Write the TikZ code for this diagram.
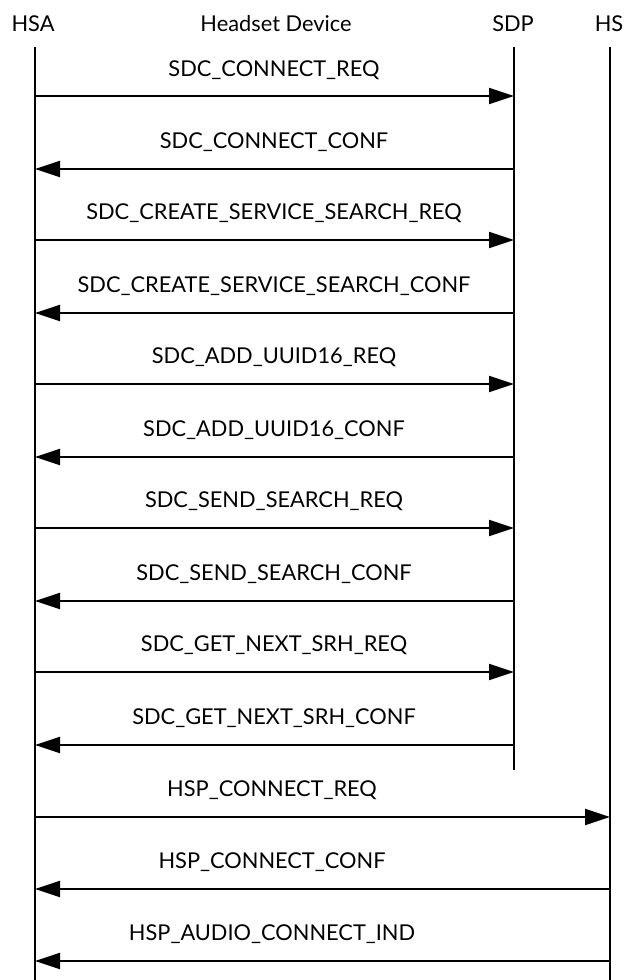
\documentclass[tikz,border=0pt]{standalone}
\usepackage{fontspec}
\setmainfont{Lato}
\usetikzlibrary{arrows.meta}
\tikzstyle{actor} = [font = \fontsize{21.8}{25}\selectfont, inner sep = 0pt]
\tikzstyle{msg} = [font = \fontsize{21.8}{25}\selectfont, inner sep = 0pt]
\tikzstyle{life} = [line width = 2pt]
\tikzstyle{call} = [-{Triangle[length = 25pt, width = 16pt]}, line width = 2pt]

\begin{document}
\begin{tikzpicture}[x = 1pt, y = -1pt]
        \useasboundingbox (0, 0) rectangle (624, 980);
        \node (HSA) at (33, 24) [actor] {HSA};
        \node (Device) at (276, 24) [actor] {Headset Device};
        \node (SDP) at (513, 24) [actor] {SDP};
        \node (HS) at (609, 24) [actor] {HS};

        \coordinate (hsaTop) at (35, 47);
        \coordinate (hsaEnd) at (35, 980);
        \coordinate (sdpTop) at (514, 47);
        \coordinate (sdpEnd) at (514, 770);
        \coordinate (hsTop) at (610, 47);
        \coordinate (hsEnd) at (610, 980);
        \draw [life] (hsaTop) -- (hsaEnd);
        \draw [life] (sdpTop) -- (sdpEnd);
        \draw [life] (hsTop) -- (hsEnd);

        % service discovery
        \node (m1) at (274, 70) [msg] {SDC\_CONNECT\_REQ};
        \draw [call] (hsaTop |- 0, 96) -- (sdpTop |- 0, 96);
        \node (m2) at (274, 142) [msg] {SDC\_CONNECT\_CONF};
        \draw [call] (sdpTop |- 0, 169) -- (hsaTop |- 0, 169);
        \node (m3) at (274, 213) [msg] {SDC\_CREATE\_SERVICE\_SEARCH\_REQ};
        \draw [call] (hsaTop |- 0, 240) -- (sdpTop |- 0, 240);
        \node (m4) at (274, 286) [msg] {SDC\_CREATE\_SERVICE\_SEARCH\_CONF};
        \draw [call] (sdpTop |- 0, 313) -- (hsaTop |- 0, 313);
        \node (m5) at (274, 357) [msg] {SDC\_ADD\_UUID16\_REQ};
        \draw [call] (hsaTop |- 0, 384) -- (sdpTop |- 0, 384);
        \node (m6) at (274, 430) [msg] {SDC\_ADD\_UUID16\_CONF};
        \draw [call] (sdpTop |- 0, 457) -- (hsaTop |- 0, 457);
        \node (m7) at (274, 501) [msg] {SDC\_SEND\_SEARCH\_REQ};
        \draw [call] (hsaTop |- 0, 528) -- (sdpTop |- 0, 528);
        \node (m8) at (274, 574) [msg] {SDC\_SEND\_SEARCH\_CONF};
        \draw [call] (sdpTop |- 0, 601) -- (hsaTop |- 0, 601);
        \node (m9) at (274, 645) [msg] {SDC\_GET\_NEXT\_SRH\_REQ};
        \draw [call] (hsaTop |- 0, 672) -- (sdpTop |- 0, 672);
        \node (m10) at (274, 718) [msg] {SDC\_GET\_NEXT\_SRH\_CONF};
        \draw [call] (sdpTop |- 0, 745) -- (hsaTop |- 0, 745);

        % headset profile
        \node (m11) at (272, 790) [msg] {HSP\_CONNECT\_REQ};
        \draw [call] (hsaTop |- 0, 817) -- (hsTop |- 0, 817);
        \node (m12) at (272, 862) [msg] {HSP\_CONNECT\_CONF};
        \draw [call] (hsTop |- 0, 889) -- (hsaTop |- 0, 889);
        \node (m13) at (272, 934) [msg] {HSP\_AUDIO\_CONNECT\_IND};
        \draw [call] (hsTop |- 0, 961) -- (hsaTop |- 0, 961);
    \end{tikzpicture}
\end{document}
